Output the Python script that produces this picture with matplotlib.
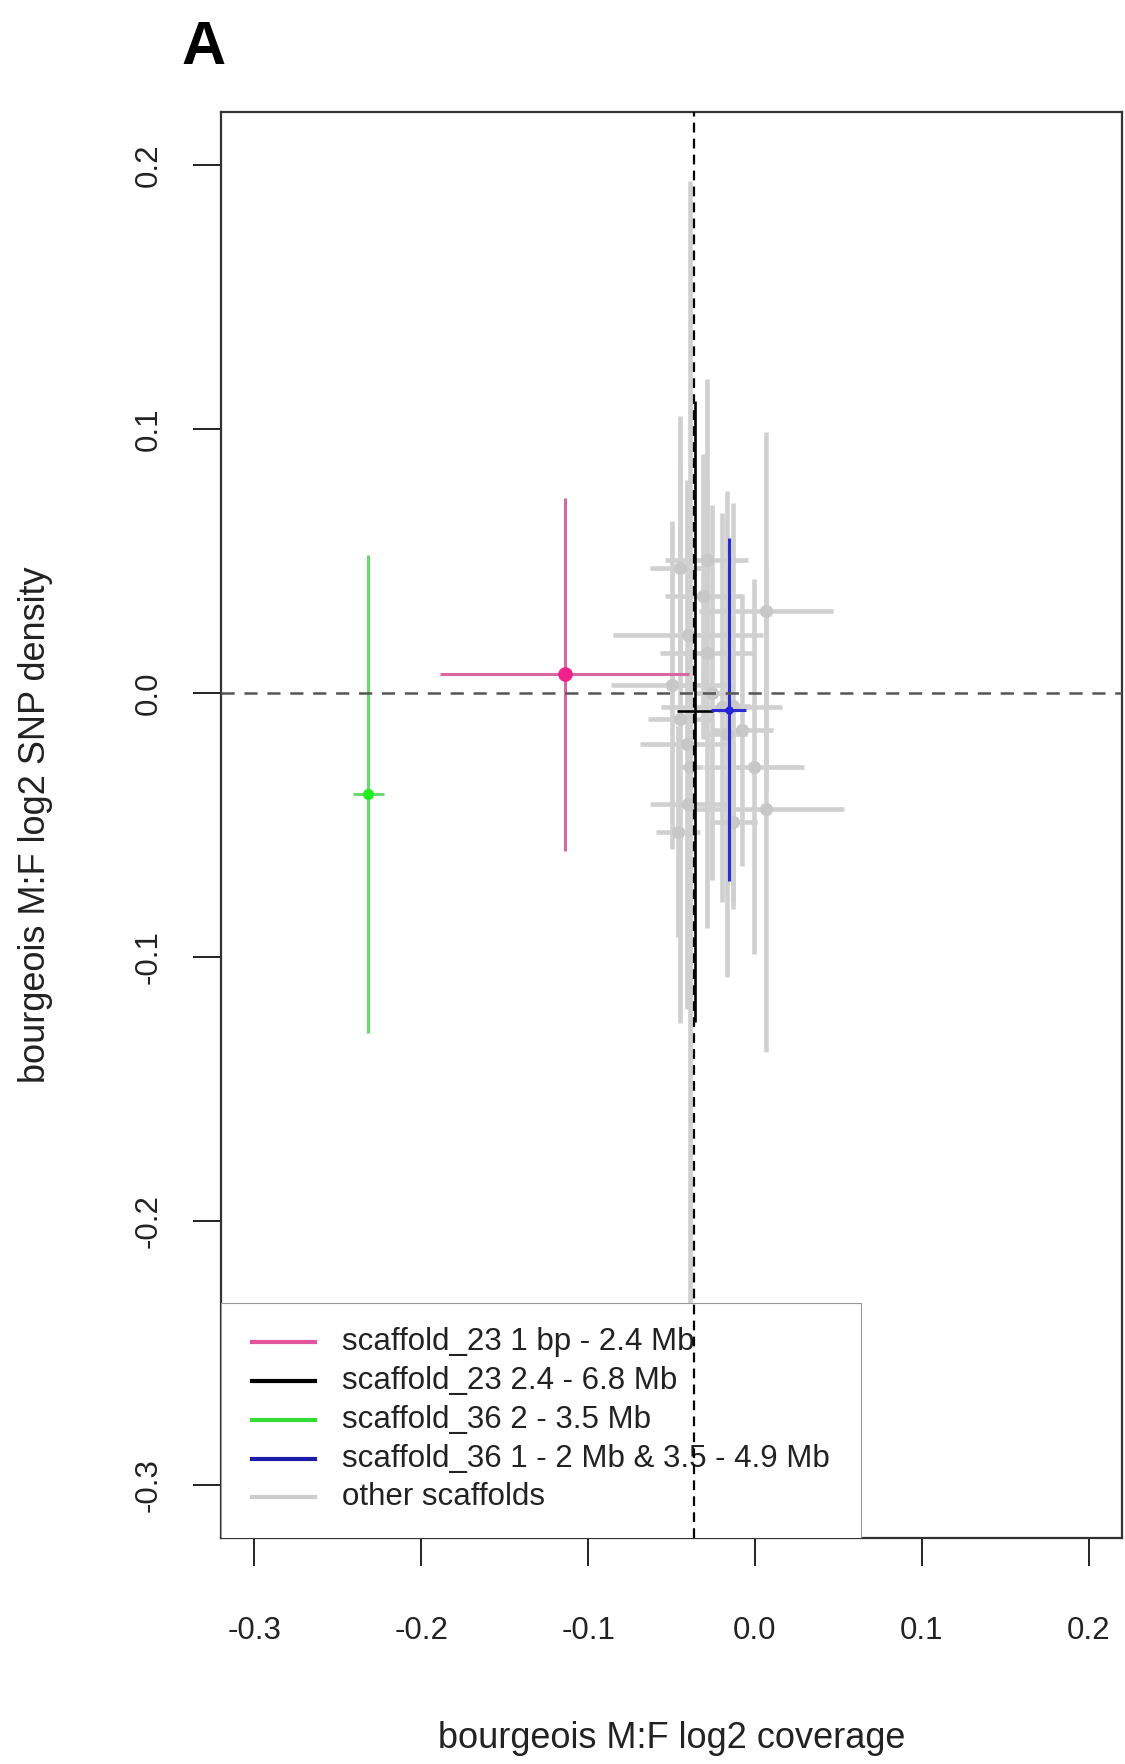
import matplotlib
matplotlib.use("Agg")
import matplotlib.pyplot as plt
from matplotlib.lines import Line2D
from matplotlib.patches import Rectangle

plt.rcParams['font.family'] = ['Liberation Sans', 'DejaVu Sans']
plt.rcParams['axes.unicode_minus'] = False
plt.rcParams['lines.scale_dashes'] = False

# ---- data ----
# other scaffolds (grey): centre and half-widths
grey_x = [-0.050, -0.045, -0.039, -0.041, -0.029, -0.031, -0.040, -0.020, -0.017, -0.013,
          -0.029, -0.045, -0.040, -0.046, 0.0066, 0.0066, -0.0006, -0.008, -0.013, -0.026]
grey_y = [0.003, -0.010, -0.028, -0.0195, 0.015, 0.0366, 0.0218, -0.0055, -0.0155, -0.0049,
          0.0505, 0.0475, -0.042, -0.0525, 0.031, -0.044, -0.028, -0.014, -0.049, 0.0]
grey_xerr = [0.036, 0.019, 0.008, 0.028, 0.028, 0.023, 0.045, 0.036, 0.012, 0.010,
             0.025, 0.018, 0.023, 0.013, 0.040, 0.047, 0.030, 0.019, 0.014, 0.010]
grey_yerr = [0.062, 0.115, 0.222, 0.100, 0.104, 0.054, 0.049, 0.0735, 0.092, 0.077,
             0.030, 0.040, 0.050, 0.040, 0.068, 0.092, 0.071, 0.0515, 0.030, 0.071]

# highlighted regions
hl_labels = ["scaffold_23 1 bp - 2.4 Mb", "scaffold_23 2.4 - 6.8 Mb",
             "scaffold_36 2 - 3.5 Mb", "scaffold_36 1 - 2 Mb & 3.5 - 4.9 Mb"]
hl_x = [-0.114, -0.036, -0.2316, -0.0156]
hl_y = [0.007, -0.007, -0.0384, -0.0063]
hl_xerr = [0.0745, 0.011, 0.0095, 0.0105]
hl_yerr = [0.067, 0.1175, 0.0905, 0.065]
hl_line_colors = ["#d866a0", "#000000", "#6ad86a", "#2a2ad0"]
hl_dot_colors = ["#f0208c", "#000000", "#22ee22", "#2222e0"]
hl_dot_sizes = [9.5, 0, 7, 5]
legend_colors = ["#e0559b", "#000000", "#33dd33", "#1c1ca8", "#cccccc"]
legend_labels = hl_labels + ["other scaffolds"]

x_ref = -0.0366
x_ticks = [-0.3, -0.2, -0.1, 0.0, 0.1, 0.2]
y_ticks = [-0.3, -0.2, -0.1, 0.0, 0.1, 0.2]

# ---- figure ----
fig = plt.figure(figsize=(11.25, 17.64), dpi=100)
ax = fig.add_axes([221/1125, 226/1764, 901/1125, 1426/1764])
ax.set_xlim(-0.32, 0.22)
ax.set_ylim(-0.32, 0.22)

grey = "#d0d0d0"
ax.errorbar(grey_x, grey_y, xerr=grey_xerr, yerr=grey_yerr, fmt='o', color="#c8c8c8",
            ecolor=grey, elinewidth=3.3, markersize=8.5, capsize=0, zorder=2)

for i in range(len(hl_x)):
    ax.errorbar([hl_x[i]], [hl_y[i]], xerr=[hl_xerr[i]], yerr=[hl_yerr[i]],
                fmt='o' if hl_dot_sizes[i] > 0 else 'none', color=hl_dot_colors[i],
                ecolor=hl_line_colors[i], elinewidth=2.2 if i != 1 else 1.9,
                markersize=hl_dot_sizes[i], capsize=0, zorder=3)

ax.axhline(0, color="#555555", lw=1.8, dashes=(9.5, 7), zorder=6)
ax.axvline(x_ref, color="#000000", lw=1.6, dashes=(7, 4.5), zorder=8)

ax.set_xticks(x_ticks)
ax.set_yticks(y_ticks)
ax.set_xticklabels([f"{v:.1f}" for v in x_ticks])
ax.set_yticklabels([f"{v:.1f}" for v in y_ticks], rotation=90, va='center')
ax.tick_params(axis='both', length=20, width=1.4, labelsize=22.5, colors='#222222')
ax.tick_params(axis='x', pad=36)
ax.tick_params(axis='y', pad=21)
for s in ax.spines.values():
    s.set_linewidth(1.6)
    s.set_color('#333333')

ax.set_xlabel("bourgeois M:F log2 coverage", fontsize=26, color='#222222', va='center')
ax.xaxis.set_label_coords(0.5, (1538 - 1738) / 1426)
ax.set_ylabel("bourgeois M:F log2 SNP density", fontsize=26, color='#222222', va='center')
ax.yaxis.set_label_coords((36 - 221) / 901, 0.5)

fig.text(204/1125, 1 - 49/1764, "A", fontsize=44, fontweight='bold', ha='center', va='center')

# ---- legend (drawn in axes fraction) ----
ax.add_patch(Rectangle((0, 0), 0.7103, 0.1648, transform=ax.transAxes, facecolor='white',
                       edgecolor='#999999', lw=0.8, zorder=7))
rows = [0.1374, 0.1101, 0.0827, 0.0554, 0.0288]
for r, c, lab in zip(rows, legend_colors, legend_labels):
    ax.add_line(Line2D([0.0344, 0.1043], [r, r], transform=ax.transAxes, color=c, lw=3.0, zorder=7.5))
    ax.text(0.1343, r, lab, transform=ax.transAxes, fontsize=22.5, va='center', ha='left',
            color='#222222', zorder=7.5)

fig.savefig("out.png", dpi=100)
